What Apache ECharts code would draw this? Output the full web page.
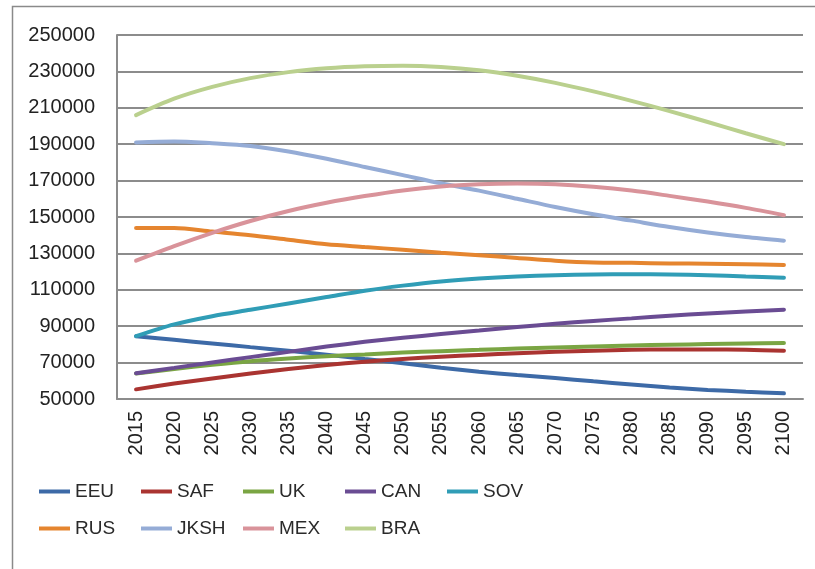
<!DOCTYPE html>
<html>
<head>
<meta charset="utf-8">
<script src="https://cdn.jsdelivr.net/npm/echarts@6/dist/echarts.min.js"></script>
<style>
  html, body { margin: 0; padding: 0; background: #ffffff; }
  #chart { width: 815px; height: 569px; }
</style>
</head>
<body>
<div id="chart"></div>
<script>
// Projection years (category axis)
const years = ['2015','2020','2025','2030','2035','2040','2045','2050','2055','2060',
               '2065','2070','2075','2080','2085','2090','2095','2100'];

// Y axis range and tick step
const yMin = 50000;
const yMax = 250000;
const yStep = 20000;

// Series values per region
const EEU  = [84500, 82500, 80500, 78500, 76500, 74300, 72000, 69700, 67200, 65000, 63200, 61500, 59700, 58000, 56300, 55000, 54000, 53100];
const SAF  = [55300, 58500, 61300, 64000, 66500, 68700, 70500, 72000, 73200, 74200, 75100, 75900, 76500, 77000, 77200, 77200, 77000, 76500];
const UK   = [64000, 66500, 68800, 70800, 72300, 73500, 74500, 75500, 76300, 77000, 77700, 78300, 78900, 79400, 79800, 80200, 80500, 80800];
const CAN  = [64100, 67100, 70100, 73000, 75900, 78800, 81400, 83600, 85700, 87600, 89500, 91300, 92900, 94300, 95700, 97000, 98100, 99100];
const SOV  = [84500, 91000, 95500, 99000, 102500, 106000, 109500, 112300, 114600, 116200, 117300, 118000, 118400, 118500, 118400, 118000, 117300, 116600];
const RUS  = [144000, 144000, 142000, 140000, 137500, 135000, 133500, 132000, 130300, 129000, 127500, 126000, 125000, 124800, 124500, 124300, 124000, 123600];
const JKSH = [191000, 191500, 190500, 189000, 186000, 182000, 177500, 173000, 168500, 164500, 160000, 155500, 151500, 148000, 144500, 141500, 139000, 137000];
const MEX  = [126000, 134000, 141300, 147800, 153300, 157800, 161500, 164600, 166800, 168000, 168400, 168000, 166600, 164500, 161600, 158500, 155000, 151000];
const BRA  = [206000, 215000, 221500, 226300, 229600, 231700, 232800, 233100, 232400, 230600, 227600, 223700, 219000, 213800, 208200, 202200, 196000, 190000];

const seriesNames = ['EEU', 'SAF', 'UK', 'CAN', 'SOV', 'RUS', 'JKSH', 'MEX', 'BRA'];
const seriesData  = [EEU, SAF, UK, CAN, SOV, RUS, JKSH, MEX, BRA];
const colors = ['#3d6aa7', '#aa3431', '#7aa543', '#6a4c93', '#309db6',
                '#e5852f', '#95acd6', '#d9939a', '#bad08e'];

const chart = echarts.init(document.getElementById('chart'), null, { renderer: 'canvas' });

const labelFont = '"Liberation Sans", Arial, sans-serif';

chart.setOption({
  animation: false,
  backgroundColor: '#ffffff',
  color: colors,
  graphic: [{
    type: 'rect',
    left: 10, top: 4,
    shape: { width: 830, height: 600 },
    style: { fill: 'none', stroke: '#8a8a8a', lineWidth: 1.5 },
    silent: true,
    z: -1
  }],
  grid: { left: 117, right: 12, top: 35, bottom: 170, containLabel: false },
  legend: {
    left: 39, top: 473, width: 530,
    padding: 0,
    itemGap: 0,
    itemWidth: 31, itemHeight: 4,
    icon: 'rect',
    textStyle: {
      fontFamily: labelFont, fontSize: 19, color: '#2a2a2a',
      width: 66, lineHeight: 37, overflow: 'none'
    },
    data: seriesNames
  },
  xAxis: {
    type: 'category',
    data: years,
    boundaryGap: true,
    axisLine: { show: true, lineStyle: { color: '#8c8c8c', width: 2 } },
    axisTick: { show: false },
    axisLabel: {
      rotate: 90, margin: 12, interval: 0,
      fontFamily: labelFont, fontSize: 20, color: '#222222'
    },
    splitLine: { show: false }
  },
  yAxis: {
    type: 'value',
    min: yMin, max: yMax, interval: yStep,
    axisLine: { show: true, lineStyle: { color: '#8c8c8c', width: 2 } },
    axisTick: { show: false },
    axisLabel: {
      margin: 22,
      fontFamily: labelFont, fontSize: 20, color: '#222222',
      formatter: (v) => String(v)
    },
    splitLine: { show: true, lineStyle: { color: '#8c8c8c', width: 2 } }
  },
  series: seriesNames.map((name, i) => ({
    name: name,
    type: 'line',
    data: seriesData[i],
    smooth: 0.3,
    showSymbol: false,
    symbol: 'none',
    lineStyle: { width: 4, color: colors[i], cap: 'round' },
    itemStyle: { color: colors[i] }
  }))
});
</script>
</body>
</html>
